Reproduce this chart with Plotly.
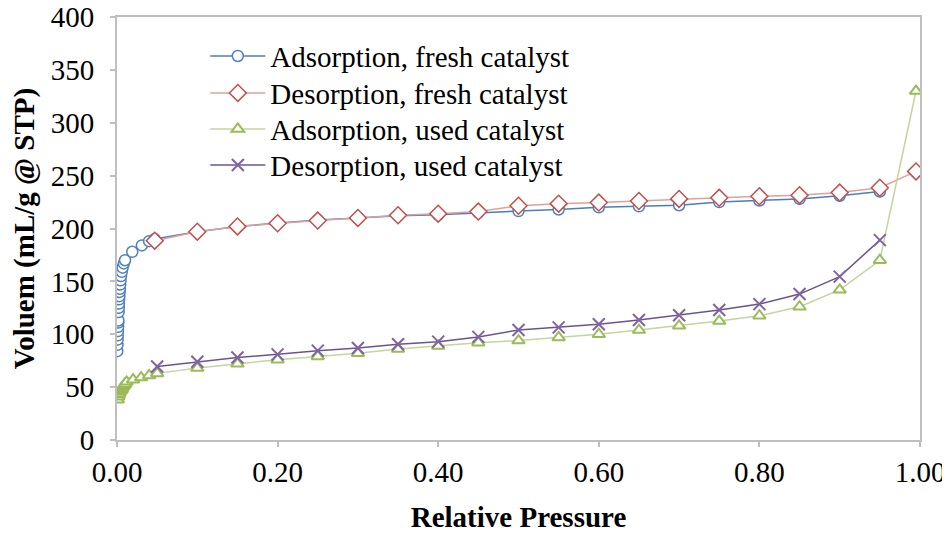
import plotly.graph_objects as go

# ---- data ----
ads_fresh_x = [0.0004, 0.0006, 0.0008, 0.0010, 0.0012, 0.0014, 0.0016, 0.0018, 0.0020, 0.0022,
               0.0024, 0.0027, 0.0030, 0.0033, 0.0036, 0.0040, 0.0045, 0.0050, 0.0060, 0.0070,
               0.0085, 0.010, 0.019, 0.031, 0.040, 0.047, 0.10, 0.15, 0.20, 0.25, 0.30, 0.35,
               0.40, 0.45, 0.50, 0.55, 0.60, 0.65, 0.70, 0.75, 0.80, 0.85, 0.90, 0.95]
ads_fresh_y = [84, 90, 95, 99, 103, 107, 111, 113, 121, 125,
               129, 133, 136, 140, 143, 147, 151, 155, 159, 163,
               167, 170, 178, 184, 188, 190, 197, 202, 205, 208, 210, 212,
               213, 215, 216.5, 218, 220, 221, 222, 225, 226.5, 228, 231, 235]

des_fresh_x = [0.047, 0.10, 0.15, 0.20, 0.25, 0.30, 0.35, 0.40, 0.45, 0.50, 0.55, 0.60,
               0.65, 0.70, 0.75, 0.80, 0.85, 0.90, 0.95, 0.995]
des_fresh_y = [188.5, 197, 202, 205, 207.5, 210, 212.5, 214, 216, 221.5, 223.5, 224.5,
               226, 228, 229, 230.5, 231.5, 234, 238.5, 254]

ads_used_x = [0.001, 0.0015, 0.002, 0.003, 0.004, 0.005, 0.006, 0.007, 0.008, 0.009, 0.010, 0.012,
              0.02, 0.03, 0.04, 0.05, 0.10, 0.15, 0.20, 0.25, 0.30, 0.35, 0.40, 0.45, 0.50,
              0.55, 0.60, 0.65, 0.70, 0.75, 0.80, 0.85, 0.90, 0.95, 0.995]
ads_used_y = [38, 41, 43, 44, 46, 47, 48, 50, 51, 52, 53, 55,
              57, 59, 61, 63, 68, 72, 76, 79, 82, 86, 89, 92, 94,
              97, 100, 104, 108, 112.5, 117.5, 126, 142, 170, 330]

des_used_x = [0.05, 0.10, 0.15, 0.20, 0.25, 0.30, 0.35, 0.40, 0.45, 0.50, 0.55, 0.60,
              0.65, 0.70, 0.75, 0.80, 0.85, 0.90, 0.95]
des_used_y = [69.5, 74, 78, 81, 84.5, 87, 90.5, 93, 97.5, 104, 106.5, 109.5,
              113.5, 118, 123, 128.5, 138, 154.5, 189]

x_ticks = [0.0, 0.2, 0.4, 0.6, 0.8, 1.0]
x_tick_labels = ["0.00", "0.20", "0.40", "0.60", "0.80", "1.00"]
y_ticks = [0, 50, 100, 150, 200, 250, 300, 350, 400]

FONT = "Liberation Serif, Times New Roman, serif"
FS = 29

fig = go.Figure()

fig.add_trace(go.Scatter(
    x=ads_fresh_x, y=ads_fresh_y, mode="lines+markers",
    name="Adsorption, fresh catalyst", legend="legend",
    line=dict(color="#4A7EBB", width=1.5),
    marker=dict(symbol="circle", size=11, color="white",
                line=dict(color="#4F81BD", width=1.5)),
))
fig.add_trace(go.Scatter(
    x=des_fresh_x, y=des_fresh_y, mode="lines+markers",
    name="Desorption, fresh catalyst", legend="legend2",
    line=dict(color="#E0A09E", width=1.5),
    marker=dict(symbol="diamond", size=13, color="white",
                line=dict(color="#C0504D", width=1.5)),
))
fig.add_trace(go.Scatter(
    x=ads_used_x, y=ads_used_y, mode="lines+markers",
    name="Adsorption, used catalyst", legend="legend3",
    line=dict(color="#C3D69B", width=1.5),
    marker=dict(symbol="triangle-up", size=11, color="white",
                line=dict(color="#9BBB59", width=2)),
))
fig.add_trace(go.Scatter(
    x=des_used_x, y=des_used_y, mode="lines+markers",
    name="Desorption, used catalyst", legend="legend4",
    line=dict(color="#6A5490", width=1.5),
    marker=dict(symbol="x-thin", size=12,
                line=dict(color="#8064A2", width=2)),
))

axis_common = dict(
    showgrid=False, zeroline=False, automargin=False,
    showline=True, linecolor="#BFBFBF", linewidth=2, mirror=True,
    ticks="outside", ticklen=5, tickcolor="#BFBFBF", tickwidth=2,
    tickfont=dict(family=FONT, size=FS, color="black"),
    ticklabeloverflow="allow",
)


def legend_at(y):
    return dict(
        x=0.110, y=y, xanchor="left", yanchor="top",
        bgcolor="rgba(0,0,0,0)",
        font=dict(family=FONT, size=FS, color="black"),
        itemwidth=55,
    )


fig.update_layout(
    width=942, height=525,
    margin=dict(l=109, r=30, t=9, b=93),
    paper_bgcolor="white", plot_bgcolor="white",
    font=dict(family=FONT, color="black"),
    showlegend=True,
    legend=legend_at(0.9678),
    legend2=legend_at(0.8804),
    legend3=legend_at(0.7953),
    legend4=legend_at(0.7102),
    xaxis=dict(
        range=[0, 1], tickvals=x_ticks, ticktext=x_tick_labels,
        title=dict(text="<b>Relative Pressure</b>",
                   font=dict(family=FONT, size=FS, color="black"), standoff=20),
        **axis_common,
    ),
    yaxis=dict(
        range=[0, 400], tickvals=y_ticks,
        title=dict(text="<b>Voluem (mL/g @ STP)</b>",
                   font=dict(family=FONT, size=FS, color="black"), standoff=8),
        ticklabelstandoff=10,
        **axis_common,
    ),
)

fig.write_html("out.html")
